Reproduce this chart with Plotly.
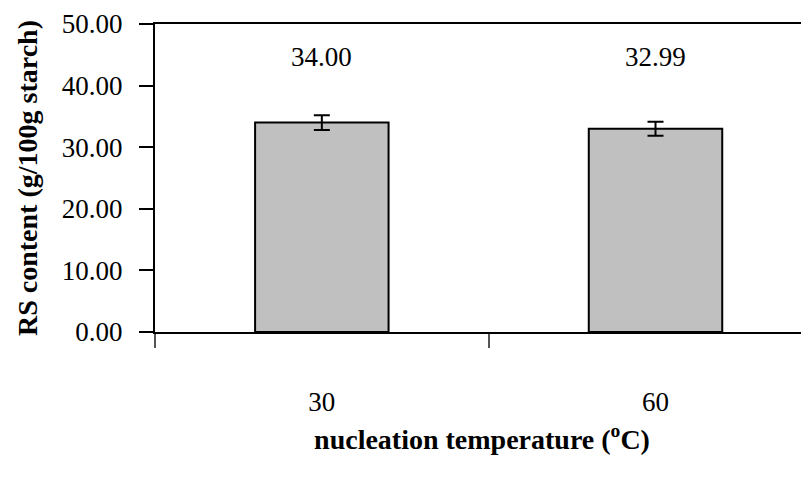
import plotly.graph_objects as go

categories = ["30", "60"]
rs_values = [34.00, 32.99]
rs_errors = [1.2, 1.15]
y_tick_values = [0, 10, 20, 30, 40, 50]
y_tick_labels = ["0.00", "10.00", "20.00", "30.00", "40.00", "50.00"]

x_pos = list(range(len(categories)))
FONT = "Liberation Serif, Times New Roman, serif"

fig = go.Figure()
fig.add_trace(go.Bar(
    x=x_pos,
    y=rs_values,
    width=0.4,
    marker=dict(color="#C0C0C0", line=dict(color="black", width=2)),
    error_y=dict(type="data", array=rs_errors, visible=True,
                 color="black", thickness=2, width=8),
    showlegend=False,
    hoverinfo="skip",
))

for xi, v in zip(x_pos, rs_values):
    fig.add_annotation(x=xi, y=44.6, text=f"{v:.2f}", showarrow=False,
                       font=dict(family=FONT, size=27, color="black"),
                       xanchor="center", yanchor="middle")

# the page body adds an 8px offset, so the figure is sized to fit the window
fig.update_layout(
    width=801, height=471,
    margin=dict(l=147, r=0, t=16, b=147, pad=0),
    paper_bgcolor="white", plot_bgcolor="white",
    font=dict(family=FONT, color="black"),
    xaxis=dict(
        range=[-0.5, 1.46], automargin=False,
        tickmode="array", tickvals=x_pos, ticktext=categories,
        ticks="", showgrid=False, zeroline=False,
        showline=True, linecolor="black", linewidth=2, mirror=True,
        tickfont=dict(family=FONT, size=27, color="black"),
        ticklabelstandoff=45,
        minor=dict(tickmode="array", tickvals=[-0.5, 0.5, 1.5],
                   ticks="outside", ticklen=14, tickwidth=1.5,
                   tickcolor="#555555", showgrid=False),
        title=dict(text="<b>nucleation temperature (<sup>o</sup>C)</b>",
                   font=dict(family=FONT, size=28, color="black"),
                   standoff=13),
    ),
    yaxis=dict(
        range=[0, 50], automargin=False,
        tickmode="array", tickvals=y_tick_values, ticktext=y_tick_labels,
        ticks="outside", ticklen=14, tickwidth=1.5, tickcolor="black",
        showgrid=False, zeroline=False,
        showline=True, linecolor="black", linewidth=2,
        tickfont=dict(family=FONT, size=27, color="black"),
        ticklabelstandoff=11,
        title=dict(text="<b>RS content (g/100g starch)</b>",
                   font=dict(family=FONT, size=28, color="black"),
                   standoff=16),
    ),
)

fig.write_html("out.html")
